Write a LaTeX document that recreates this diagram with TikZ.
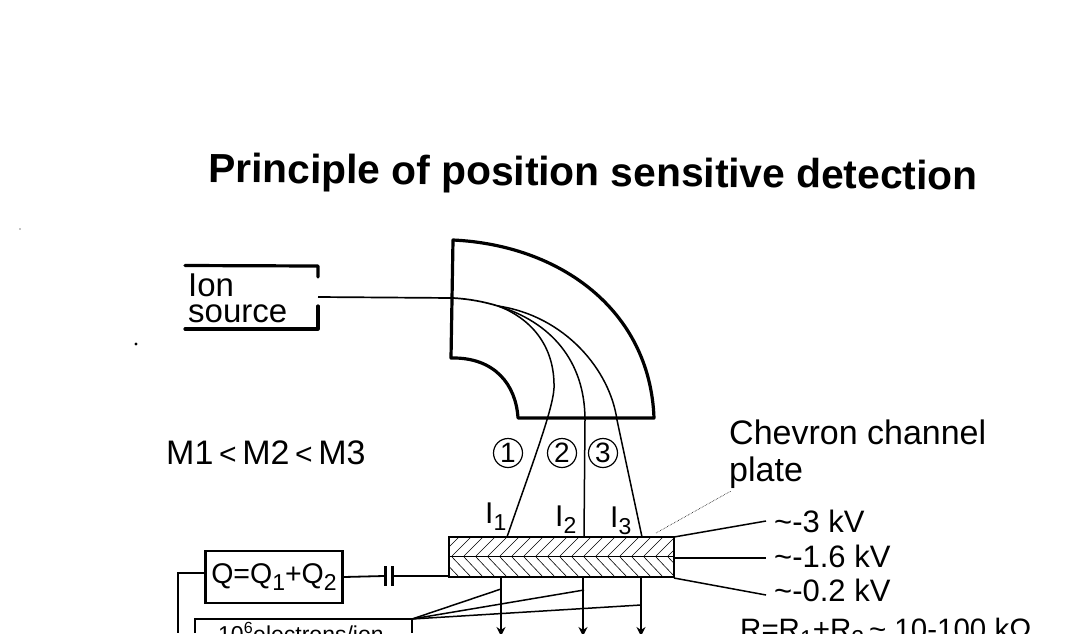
\documentclass[tikz,border=0pt]{standalone}
\usepackage{fontspec}
\setmainfont{Liberation Sans}
\usetikzlibrary{arrows.meta}
\newcommand{\subdigit}[1]{\raisebox{-7pt}{\fontsize{23}{23}\selectfont #1}}
\tikzset{
  thick line/.style={line width=3.2pt,black,line join=round,line cap=round},
  thin line/.style={line width=1.5pt,black},
  lab/.style={inner sep=0pt,font=\fontsize{31}{31}\selectfont,anchor=west},
  cur/.style={inner sep=0pt,font=\fontsize{30}{30}\selectfont,anchor=base west},
  num/.style={circle,draw,line width=1.2pt,inner sep=0pt,minimum size=29pt,font=\fontsize{28}{28}\selectfont},
  arrowdown/.style={line width=1.8pt,-{Stealth[length=9pt,width=9pt]}},
  hatchline/.style={line width=0.6pt}
}
\begin{document}
\begin{tikzpicture}[x=1pt,y=-1pt,line cap=butt]
\useasboundingbox (0,0) rectangle (1076,633);
\clip (0,0) rectangle (1076,633);
\fill[white] (0,0) rectangle (1076,633);
% specks
\fill (136,344) circle (1.6);
\fill (20,229) circle (0.6);
% title
\node[inner sep=0pt,rotate=-0.55,font=\bfseries\fontsize{40.7}{41}\selectfont] (title) at (593,175.5) {Principle of position sensitive detection};
% ion source
\node[lab,align=left,font=\fontsize{33}{26}\selectfont] (ion) at (188,298) {Ion\\source};
\coordinate (srcA) at (318,297);
\draw[thick line] (318,277) -- (318,266) -- (185,265.5);
\draw[thick line] (318,306) -- (318,329) -- (185,329);
% analyser
\draw[thick line] (451,358) -- (453,240) .. controls (560,245) and (650,310) .. (654,418) -- (518,418) .. controls (516,385) and (495,357) .. (451,358) -- cycle;
% beams
\coordinate (split) at (498,306);
\draw[line width=1.7pt] (srcA) -- (453,298) .. controls (470,299) and (485,302) .. (split);
\draw[thin line] (split) .. controls (530,318) and (555,345) .. (554,388) .. controls (553,410) and (530,470) .. (507,537);
\draw[thin line] (split) .. controls (550,322) and (585,360) .. (585,420) -- (584,537);
\draw[thin line] (split) .. controls (565,316) and (610,370) .. (617,420) -- (642,537);
% numbers
\node[num] (n1) at (508,453) {1};
\node[num] (n2) at (562,453) {2};
\node[num] (n3) at (603,453) {3};
\node[lab,font=\fontsize{34}{34}\selectfont] (m) at (166,453) {M1\,{\fontsize{30}{30}\selectfont<}\,M2\,{\fontsize{30}{30}\selectfont<}\,M3};
\node[cur] (i1) at (485,523) {I\subdigit{1}};
\node[cur] (i2) at (555,526) {I\subdigit{2}};
\node[cur] (i3) at (610,527) {I\subdigit{3}};
% chevron
\node[lab,align=left,font=\fontsize{34}{37}\selectfont] (chev) at (729,454) {Chevron channel\\plate};
\draw[line width=0.6pt,densely dotted] (656,533) -- (731,491);
% plates
\begin{scope}
\clip (449,537) rectangle (674,577);
\foreach \x in {440,452,...,690} \draw[hatchline] (\x,556) -- (\x+19,537);
\foreach \x in {440,452,...,690} \draw[hatchline] (\x,557) -- (\x+19,577);
\end{scope}
\draw[line width=1.5pt] (449,537) rectangle (674,577);
\draw[line width=0.8pt] (449,556.5) -- (674,556.5);
\draw[line width=2.6pt] (449,577) -- (674,577);
% voltages
\coordinate (t1) at (766,521);
\coordinate (t2) at (766,558);
\coordinate (t3) at (766,595);
\draw[thin line] (674,537) -- (t1);
\draw[thin line] (674,558) -- (t2);
\draw[thin line] (674,578) -- (t3);
\node[lab] (v1) at (774,521) {\textasciitilde-3 kV};
\node[lab] (v2) at (774,556) {\textasciitilde-1.6 kV};
\node[lab] (v3) at (774,590) {\textasciitilde-0.2 kV};
\node[lab,font=\fontsize{29.5}{30}\selectfont] (r) at (740,632) {R=R\subdigit{1}+R\subdigit{2}\,\textasciitilde\ 10-100 kΩ};
% Q box
\node[draw,line width=2.4pt,inner sep=0pt,minimum width=137pt,minimum height=52pt,font=\fontsize{28.5}{28.5}\selectfont] (q) at (274,577) {Q=Q\subdigit{1}+Q\subdigit{2}};
\coordinate (capL) at (384,576);
\coordinate (capR) at (394,576);
\coordinate (plateL) at (449,576);
\coordinate (qw) at (205,573);
\draw[line width=1.8pt] (q.east) -- (capL);
\draw[line width=1.8pt] (capR) -- (plateL);
\draw[line width=3pt] (385,566) -- (385,586);
\draw[line width=3pt] (392,566) -- (392,586);
\draw[line width=1.6pt] (qw) -- (178,573) -- (178,633);
% electron box
\coordinate (boxc) at (412,619);
\draw[line width=1.2pt] (195,633) -- (195,619) -- (boxc) -- (412,633);
\node[inner sep=0pt,font=\fontsize{23}{23}\selectfont,anchor=west] (e) at (218,632) {10\textsuperscript{6}electrons/ion};
% fan
\draw[thin line] (boxc) -- (501,589);
\draw[thin line] (boxc) -- (584,590);
\draw[thin line] (boxc) -- (641,605);
% outputs
\draw[arrowdown] (501,577) -- (501,636);
\draw[arrowdown] (583,577) -- (583,636);
\draw[arrowdown] (641,577) -- (641,636);
\end{tikzpicture}
\end{document}
